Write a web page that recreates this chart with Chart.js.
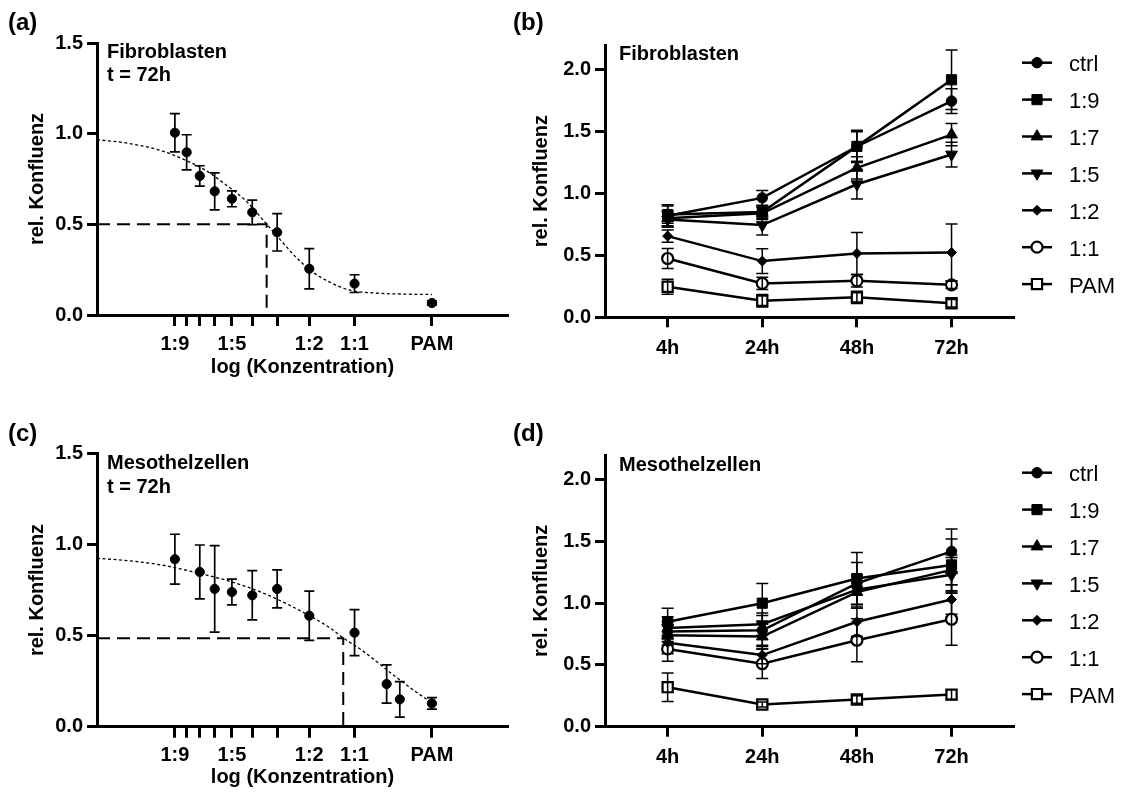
<!DOCTYPE html>
<html><head><meta charset="utf-8">
<script src="https://cdn.jsdelivr.net/npm/chart.js@4.4.1/dist/chart.umd.min.js"></script>
<style>
html,body{margin:0;padding:0;background:#fff;}
body{width:1123px;height:792px;position:relative;overflow:hidden;}
canvas{position:absolute;}
</style></head><body>
<canvas id="cA" width="520" height="400" style="left:0;top:0"></canvas>
<canvas id="cB" width="623" height="400" style="left:500px;top:0"></canvas>
<canvas id="cC" width="520" height="397" style="left:0;top:395px"></canvas>
<canvas id="cD" width="623" height="397" style="left:500px;top:395px"></canvas>
<script>
// ================= DATA =================
// dose axis (log concentration): tick concentrations and labels
const doseTickConc   = [1/10, 1/9, 1/8, 1/7, 1/6, 1/5, 1/4, 1/3, 1/2, 1];
const doseTickLabels = ['1:9', '', '', '', '1:5', '', '', '1:2', '1:1', 'PAM'];
const doseYTicks = [0, 0.5, 1.0, 1.5];
const timeYTicks = [0, 0.5, 1.0, 1.5, 2.0];

// (a) Fibroblasten, t = 72h
const concA = [1/10, 1/9, 1/8, 1/7, 1/6, 1/5, 1/4, 1/3, 1/2, 1];
const meanA = [1.005, 0.897, 0.767, 0.682, 0.641, 0.566, 0.456, 0.255, 0.173, 0.066];
const sdA   = [0.105, 0.097, 0.056, 0.102, 0.044, 0.068, 0.103, 0.111, 0.049, 0.012];
const fitA_logc = [-1.303, -1.182, -1.052, -0.961, -0.883, -0.792, -0.727, -0.642, -0.583, -0.531, -0.466, -0.401, -0.323, -0.206, -0.100, 0];
const fitA_val  = [0.967, 0.947, 0.906, 0.855, 0.800, 0.708, 0.634, 0.500, 0.404, 0.322, 0.239, 0.184, 0.138, 0.120, 0.115, 0.113];
const ic50A = {logc: -0.643, val: 0.50};

// (c) Mesothelzellen, t = 72h
const concC = [1/10, 1/8, 1/7, 1/6, 1/5, 1/4, 1/3, 1/2, 2/3, 3/4, 1];
const meanC = [0.919, 0.849, 0.756, 0.739, 0.721, 0.756, 0.609, 0.516, 0.234, 0.150, 0.128];
const sdC   = [0.137, 0.148, 0.237, 0.071, 0.135, 0.104, 0.135, 0.126, 0.105, 0.097, 0.032];
const fitC_logc = [-1.303, -1.182, -1.052, -0.922, -0.792, -0.661, -0.531, -0.401, -0.343, -0.271, -0.141, -0.010, 0];
const fitC_val  = [0.924, 0.911, 0.887, 0.847, 0.800, 0.736, 0.650, 0.546, 0.485, 0.418, 0.274, 0.141, 0.133];
const ic50C = {logc: -0.345, val: 0.485};

// (b)/(d) time course
const timeCats = ['4h', '24h', '48h', '72h'];
const seriesNames = ['ctrl', '1:9', '1:7', '1:5', '1:2', '1:1', 'PAM'];

const fibroMean = {
  'ctrl': [0.820, 0.965, 1.380, 1.747],
  '1:9':  [0.830, 0.850, 1.381, 1.919],
  '1:7':  [0.800, 0.840, 1.207, 1.476],
  '1:5':  [0.790, 0.745, 1.075, 1.315],
  '1:2':  [0.656, 0.454, 0.516, 0.524],
  '1:1':  [0.475, 0.274, 0.295, 0.262],
  'PAM':  [0.247, 0.134, 0.161, 0.113]
};
const fibroSd = {
  'ctrl': [0.09, 0.06, 0.12, 0.10],
  '1:9':  [0.07, 0.05, 0.13, 0.24],
  '1:7':  [0.06, 0.05, 0.09, 0.09],
  '1:5':  [0.06, 0.08, 0.12, 0.10],
  '1:2':  [0.05, 0.10, 0.17, 0.23],
  '1:1':  [0.08, 0.05, 0.05, 0.03],
  'PAM':  [0.06, 0.05, 0.05, 0.03]
};
const mesoMean = {
  'ctrl': [0.770, 0.780, 1.160, 1.420],
  '1:9':  [0.850, 1.000, 1.200, 1.310],
  '1:7':  [0.740, 0.730, 1.090, 1.270],
  '1:5':  [0.800, 0.830, 1.110, 1.230],
  '1:2':  [0.680, 0.580, 0.850, 1.030],
  '1:1':  [0.630, 0.510, 0.700, 0.870],
  'PAM':  [0.320, 0.180, 0.220, 0.260]
};
const mesoSd = {
  'ctrl': [0.08, 0.12, 0.17, 0.18],
  '1:9':  [0.11, 0.16, 0.21, 0.21],
  '1:7':  [0.08, 0.10, 0.13, 0.12],
  '1:5':  [0.09, 0.09, 0.12, 0.14],
  '1:2':  [0.09, 0.07, 0.12, 0.12],
  '1:1':  [0.10, 0.12, 0.175, 0.21],
  'PAM':  [0.115, 0.02, 0.03, 0.04]
};

// ================= STYLE / PLUGINS =================
const FAM = '"Liberation Sans", Arial, Helvetica, sans-serif';
Chart.defaults.font.family = FAM;
Chart.defaults.color = '#000';

const markerStyle = {
  'ctrl': {pointStyle: 'circle',   radius: 5.2, bg: '#000', rot: 0},
  '1:9':  {pointStyle: 'rect',     radius: 7.2, bg: '#000', rot: 0},
  '1:7':  {pointStyle: 'triangle', radius: 6.8, bg: '#000', rot: 0},
  '1:5':  {pointStyle: 'triangle', radius: 6.8, bg: '#000', rot: 180},
  '1:2':  {pointStyle: 'rectRot',  radius: 5.0, bg: '#000', rot: 0},
  '1:1':  {pointStyle: 'circle',   radius: 5.5, bg: '#fff', rot: 0},
  'PAM':  {pointStyle: 'rect',     radius: 7.2, bg: '#fff', rot: 0}
};

const errorBars = {
  id: 'errorBars',
  afterDatasetsDraw(chart) {
    const ctx = chart.ctx, xs = chart.scales.x, ys = chart.scales.y;
    chart.data.datasets.forEach((ds) => {
      if (!ds.errors) return;
      ctx.save();
      ctx.strokeStyle = '#000';
      ctx.lineWidth = ds.errWidth || 1.5;
      ds.data.forEach((p, j) => {
        const e = ds.errors[j];
        if (!e) return;
        const x = xs.getPixelForValue(p.x);
        const y1 = ys.getPixelForValue(p.y + e), y2 = ys.getPixelForValue(p.y - e);
        const c = ds.capHalf || 5;
        ctx.beginPath();
        ctx.moveTo(x, y1); ctx.lineTo(x, y2);
        ctx.moveTo(x - c, y1); ctx.lineTo(x + c, y1);
        ctx.moveTo(x - c, y2); ctx.lineTo(x + c, y2);
        ctx.stroke();
      });
      ctx.restore();
    });
  }
};

const notes = {
  id: 'notes',
  afterDraw(chart, args, opts) {
    const ctx = chart.ctx;
    (opts.items || []).forEach(t => {
      ctx.save();
      ctx.font = t.font;
      ctx.fillStyle = '#000';
      ctx.textAlign = 'left';
      ctx.textBaseline = 'alphabetic';
      ctx.fillText(t.text, t.x, t.y);
      ctx.restore();
    });
  }
};

const sideLegend = {
  id: 'sideLegend',
  afterDraw(chart, args, o) {
    if (!o.show) return;
    const ctx = chart.ctx;
    chart.data.datasets.forEach((ds, i) => {
      const y = o.y0 + i * o.dy;
      ctx.save();
      ctx.strokeStyle = '#000';
      ctx.lineWidth = 2.5;
      ctx.beginPath(); ctx.moveTo(o.x0, y); ctx.lineTo(o.x1, y); ctx.stroke();
      ctx.fillStyle = ds.pointBackgroundColor;
      ctx.lineWidth = ds.pointBorderWidth;
      Chart.helpers.drawPoint(ctx, {pointStyle: ds.pointStyle, rotation: ds.pointRotation, radius: ds.pointRadius, borderWidth: ds.pointBorderWidth}, (o.x0 + o.x1) / 2, y);
      ctx.fillStyle = '#000';
      ctx.font = '22px ' + FAM;
      ctx.textAlign = 'left';
      ctx.textBaseline = 'alphabetic';
      ctx.fillText(ds.label, o.tx, y + 8.5);
      ctx.restore();
    });
  }
};

const boldFont = {size: 20, weight: 'bold'};
function axisBase(tickLen) {
  return {
    grid: {drawOnChartArea: false, drawTicks: true, tickLength: tickLen, tickWidth: 3, tickColor: '#000'},
    border: {display: true, width: 3, color: '#000'}
  };
}
const xMinDose = -1.303, xMaxDose = 0.296;

function doseChart(id, conc, mean, sd, fitX, fitY, ic, cfg) {
  const pts = conc.map((c, i) => ({x: Math.log10(c), y: mean[i]}));
  return new Chart(document.getElementById(id), {
    type: 'line',
    data: {datasets: [
      {data: fitX.map((x, i) => ({x: x, y: fitY[i]})), borderColor: '#000', borderWidth: 1.3, borderDash: [3, 2.5],
       pointRadius: 0, cubicInterpolationMode: 'monotone', fill: false},
      {data: [{x: xMinDose, y: ic.val}, {x: ic.logc, y: ic.val}, {x: ic.logc, y: 0}], borderColor: '#000', borderWidth: 2,
       borderDash: [13, 7], pointRadius: 0, tension: 0, fill: false},
      {data: pts, showLine: false, pointStyle: 'circle', pointRadius: 4.6, pointBackgroundColor: '#000', pointBorderColor: '#000',
       pointBorderWidth: 1, errors: sd, capHalf: 5, errWidth: 1.7}
    ]},
    options: {
      responsive: false, animation: false, events: [],
      layout: {padding: {left: 0, right: cfg.padR, top: cfg.padT, bottom: cfg.padB}},
      plugins: {legend: {display: false}, tooltip: {enabled: false}, notes: {items: cfg.notes}},
      scales: {
        x: Object.assign(axisBase(11), {
          type: 'linear', min: xMinDose, max: xMaxDose,
          afterBuildTicks: s => { s.ticks = doseTickConc.map(c => ({value: Math.log10(c)})); },
          ticks: {callback: (v, i) => doseTickLabels[i], autoSkip: false, maxRotation: 0, padding: 6, font: boldFont, color: '#000'},
          title: {display: true, text: 'log (Konzentration)', font: boldFont, color: '#000', padding: {top: 0, bottom: cfg.xTitlePad}},
          afterFit: s => { s.height = cfg.xH; }
        }),
        y: Object.assign(axisBase(10), {
          type: 'linear', min: 0, max: 1.5,
          afterBuildTicks: s => { s.ticks = doseYTicks.map(v => ({value: v})); },
          ticks: {callback: v => Number(v).toFixed(1), padding: 4, font: boldFont, color: '#000'},
          title: {display: true, text: 'rel. Konfluenz', font: boldFont, color: '#000', padding: {top: cfg.yTitlePad, bottom: 0}},
          afterFit: s => { s.width = cfg.yW; }
        })
      }
    },
    plugins: [errorBars, notes]
  });
}

function timeChart(id, meanObj, sdObj, cfg) {
  const datasets = seriesNames.map(name => {
    const st = markerStyle[name];
    return {
      label: name,
      data: meanObj[name].map((v, i) => ({x: i, y: v})),
      errors: sdObj[name], capHalf: 6, errWidth: 1.5,
      borderColor: '#000', borderWidth: 2.5, tension: 0, fill: false,
      pointStyle: st.pointStyle, pointRotation: st.rot, pointRadius: st.radius,
      pointBackgroundColor: st.bg, pointBorderColor: '#000', pointBorderWidth: st.bg === '#fff' ? 2.2 : 1
    };
  });
  return new Chart(document.getElementById(id), {
    type: 'line',
    data: {datasets: datasets},
    options: {
      responsive: false, animation: false, events: [],
      layout: {padding: {left: 0, right: cfg.padR, top: cfg.padT, bottom: cfg.padB}},
      plugins: {legend: {display: false}, tooltip: {enabled: false}, notes: {items: cfg.notes}, sideLegend: cfg.legend},
      scales: {
        x: Object.assign(axisBase(10), {
          type: 'linear', min: -0.662, max: 3.66,
          afterBuildTicks: s => { s.ticks = timeCats.map((c, i) => ({value: i})); },
          ticks: {callback: (v, i) => timeCats[i], autoSkip: false, maxRotation: 0, padding: 9, font: boldFont, color: '#000'},
          afterFit: s => { s.height = cfg.xH; }
        }),
        y: Object.assign(axisBase(10), {
          type: 'linear', min: 0, max: 2.2,
          afterBuildTicks: s => { s.ticks = timeYTicks.map(v => ({value: v})); },
          ticks: {callback: v => Number(v).toFixed(1), padding: 4, font: boldFont, color: '#000'},
          title: {display: true, text: 'rel. Konfluenz', font: boldFont, color: '#000', padding: {top: cfg.yTitlePad, bottom: 0}},
          afterFit: s => { s.width = cfg.yW; }
        })
      }
    },
    plugins: [errorBars, notes, sideLegend]
  });
}

const bold20 = 'bold 20px ' + FAM, bold24 = 'bold 24px ' + FAM;

doseChart('cA', concA, meanA, sdA, fitA_logc, fitA_val, ic50A, {
  padR: 12, padT: 43, padB: 22, xH: 63, yW: 97, xTitlePad: -1, yTitlePad: 25,
  notes: [
    {text: '(a)', x: 8, y: 30, font: bold24},
    {text: 'Fibroblasten', x: 107, y: 57.5, font: bold20},
    {text: 't = 72h', x: 107, y: 81, font: bold20}
  ]
});
timeChart('cB', fibroMean, fibroSd, {
  padR: 109, padT: 45, padB: 22.7, xH: 60, yW: 105, yTitlePad: 29.7,
  notes: [
    {text: '(b)', x: 13, y: 30, font: bold24},
    {text: 'Fibroblasten', x: 119, y: 59.5, font: bold20}
  ],
  legend: {show: true, x0: 522, x1: 552, tx: 569, y0: 62.7, dy: 36.9}
});
doseChart('cC', concC, meanC, sdC, fitC_logc, fitC_val, ic50C, {
  padR: 12, padT: 58.3, padB: 2.3, xH: 63, yW: 97, xTitlePad: 0, yTitlePad: 25,
  notes: [
    {text: '(c)', x: 8, y: 45.5, font: bold24},
    {text: 'Mesothelzellen', x: 107, y: 74.3, font: bold20},
    {text: 't = 72h', x: 107, y: 97.7, font: bold20}
  ]
});
timeChart('cD', mesoMean, mesoSd, {
  padR: 109, padT: 60, padB: 5.3, xH: 60, yW: 105, yTitlePad: 29.7,
  notes: [
    {text: '(d)', x: 13, y: 45.5, font: bold24},
    {text: 'Mesothelzellen', x: 119, y: 76, font: bold20}
  ],
  legend: {show: true, x0: 522, x1: 552, tx: 569, y0: 77.7, dy: 36.9}
});
</script>
</body></html>
